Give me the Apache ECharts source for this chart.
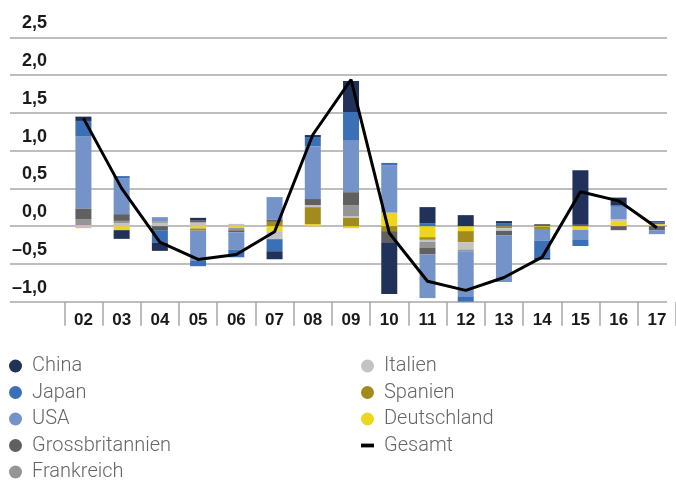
<!DOCTYPE html>
<html>
<head>
<meta charset="utf-8">
<script src="https://cdn.jsdelivr.net/npm/echarts@6/dist/echarts.min.js"></script>
<style>
    html, body { margin: 0; padding: 0; background: #fff; }
    #chart { width: 676px; height: 480px; }
</style>
</head>
<body>
<div id="chart"></div>
<script>
    // Jahre
    const years = ['02', '03', '04', '05', '06', '07', '08', '09', '10', '11', '12', '13', '14', '15', '16', '17'];
    const yTicks = [-1, -0.5, 0, 0.5, 1, 1.5, 2, 2.5];

    // Beiträge je Land
    const china = [0.057, -0.115, -0.111, 0.03, 0, -0.106, 0.027, 0.411, -0.686, 0.212, 0.146, 0.027, -0.022, 0.72, 0.1, 0.017];
    const japan = [0.208, 0.027, -0.163, -0.07, -0.1, -0.16, 0.12, 0.371, 0.03, 0.04, -0.08, 0.04, -0.23, -0.08, 0.022, 0.022];
    const usa = [0.95, 0.477, 0.053, -0.40, -0.23, 0.296, 0.70, 0.69, 0.627, -0.58, -0.597, -0.62, -0.153, -0.133, 0.163, -0.053];
    const grossbritannien = [0.142, 0.089, -0.053, 0.03, -0.027, 0.032, 0.08, 0.172, -0.146, -0.089, 0, -0.057, 0.027, 0.02, -0.053, -0.053];
    const frankreich = [0.08, 0.03, 0.022, 0, -0.03, 0, 0, 0.146, 0, -0.075, -0.023, 0, 0, 0, 0, 0];
    const italien = [-0.027, 0.04, 0.044, 0.05, 0.03, -0.106, 0.027, 0.017, 0, -0.027, -0.097, -0.035, 0, 0, 0.027, 0];
    const spanien = [0, 0, 0, -0.03, 0, 0.057, 0.225, 0.115, -0.066, -0.035, -0.146, -0.027, -0.027, 0, 0, 0];
    const deutschland = [0.013, -0.053, 0, -0.03, -0.025, -0.066, 0.027, -0.027, 0.18, -0.146, -0.066, 0, -0.01, -0.05, 0.066, 0.027];
    const gesamt = [1.43, 0.50, -0.21, -0.44, -0.375, -0.075, 1.21, 1.94, -0.09, -0.73, -0.85, -0.68, -0.41, 0.455, 0.335, -0.02];

    // Reihenfolge im Stapel: zuerst nahe Null
    const stackOrder = [
        ['Deutschland', deutschland, '#ecd71c'],
        ['Spanien', spanien, '#a38a1c'],
        ['Italien', italien, '#c3c3c3'],
        ['Frankreich', frankreich, '#959595'],
        ['Grossbritannien', grossbritannien, '#606060'],
        ['USA', usa, '#7393c9'],
        ['Japan', japan, '#3b70b6'],
        ['China', china, '#21325a']
    ];

    const legendText = {
        fontSize: 20,
        color: '#666',
        fontFamily: 'Roboto',
        fontWeight: 300,
        padding: [0, 0, 0, 5]
    };

    let myChart = echarts.init(document.getElementById('chart'));

    let series = stackOrder.map(s => ({
        name: s[0],
        type: 'bar',
        stack: 'laender',
        xAxisIndex: 1,
        yAxisIndex: 1,
        data: s[1],
        barWidth: 16,
        itemStyle: { color: s[2] }
    }));
    series.push({
        name: 'Gesamt',
        type: 'line',
        xAxisIndex: 1,
        yAxisIndex: 1,
        data: gesamt,
        symbol: 'none',
        z: 10,
        lineStyle: { color: '#000', width: 3 },
        itemStyle: { color: '#000' }
    });

    let option = {
        backgroundColor: '#fff',
        animation: false,
        grid: [
            { left: 10, right: 9, top: 37.3, bottom: 178.3 },
            { left: 64.3, width: 614.4, top: 37.3, bottom: 178.3 }
        ],
        xAxis: [
            { type: 'value', gridIndex: 0, show: false, min: 0, max: 1 },
            {
                type: 'category',
                gridIndex: 1,
                data: years,
                axisLine: { show: false, onZero: false },
                axisTick: {
                    show: true,
                    interval: 0,
                    length: 24,
                    lineStyle: { color: '#a8a8a8', width: 1.5 }
                },
                axisLabel: {
                    interval: 0,
                    margin: 10,
                    color: '#1a1a1a',
                    fontSize: 17,
                    fontWeight: 'bold',
                    fontFamily: 'Liberation Sans'
                }
            }
        ],
        yAxis: [
            {
                type: 'value',
                gridIndex: 0,
                min: yTicks[0],
                max: yTicks[yTicks.length - 1],
                interval: 0.5,
                axisLine: { show: false },
                axisTick: { show: false },
                splitLine: { lineStyle: { color: '#a8a8a8', width: 1.5 } },
                axisLabel: {
                    inside: true,
                    align: 'right',
                    verticalAlign: 'bottom',
                    margin: 37,
                    padding: [0, 0, 5, 0],
                    color: '#1a1a1a',
                    fontSize: 18,
                    fontWeight: 'bold',
                    fontFamily: 'Liberation Sans',
                    formatter: v => (v < 0 ? '\u2013' : '') + Math.abs(v).toFixed(1).replace('.', ',')
                }
            },
            {
                type: 'value',
                gridIndex: 1,
                min: yTicks[0],
                max: yTicks[yTicks.length - 1],
                interval: 0.5,
                show: false
            }
        ],
        legend: [
            {
                data: ['China', 'Japan', 'USA', 'Grossbritannien', 'Frankreich'],
                orient: 'vertical',
                left: 9,
                top: 356,
                height: 140,
                padding: 0,
                icon: 'circle',
                itemWidth: 13,
                itemHeight: 13,
                itemGap: 6.5,
                textStyle: legendText
            },
            {
                data: ['Italien', 'Spanien', 'Deutschland', { name: 'Gesamt', icon: 'path://M0,0H12V3.5H0Z' }],
                orient: 'vertical',
                left: 361,
                top: 356,
                height: 140,
                padding: 0,
                icon: 'circle',
                itemWidth: 13,
                itemHeight: 13,
                itemGap: 6.5,
                textStyle: legendText
            }
        ],
        series: series
    };
    myChart.setOption(option, true);
</script>
</body>
</html>
